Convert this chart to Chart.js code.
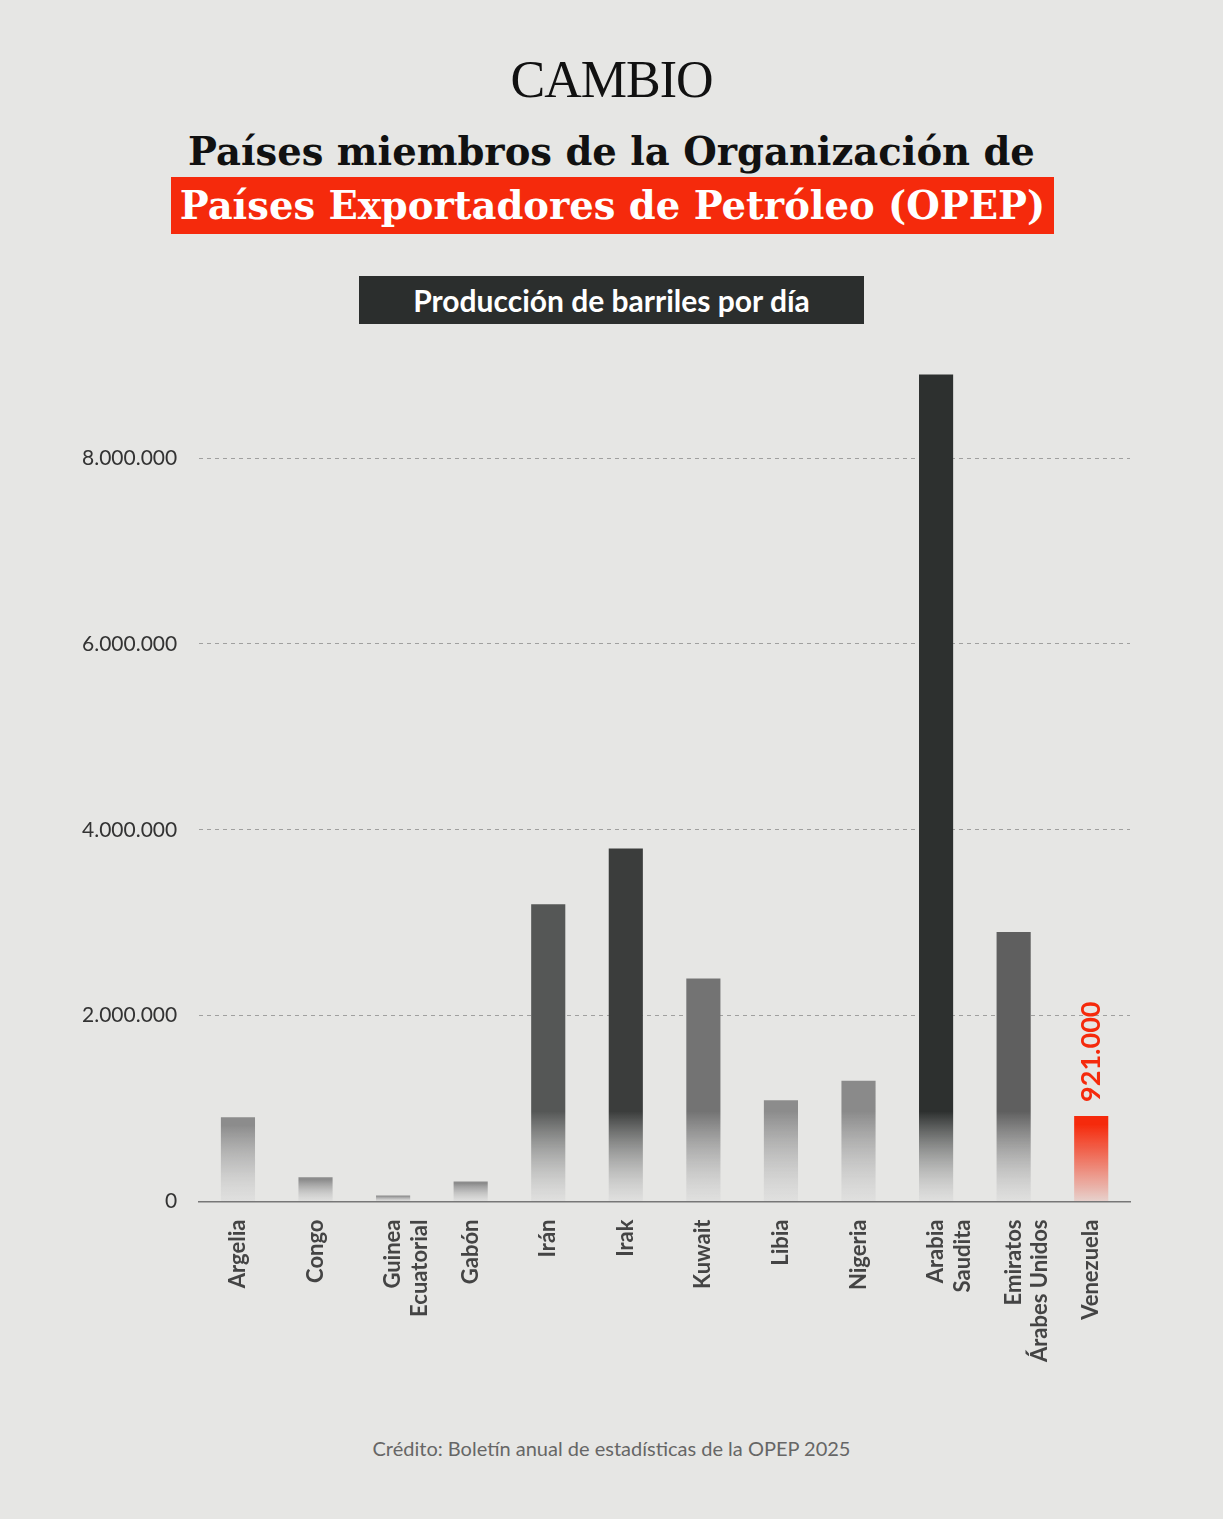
<!DOCTYPE html>
<html>
<head>
<meta charset="utf-8">
<script src="https://cdn.jsdelivr.net/npm/chart.js@4"></script>
<style>
  body { margin: 0; background: #e6e6e4; width: 1223px; height: 1519px; overflow: hidden; font-family: 'Lato', 'Noto Sans', sans-serif; }
  .wrap { position: relative; width: 1223px; height: 1519px; }
  .brand { position: absolute; top: 50px; width: 100%; text-align: center; font-family: 'Liberation Serif', serif; font-size: 52px; color: #111; letter-spacing: -1px; }
  .t1 { position: absolute; top: 129px; width: 100%; text-align: center; font-family: 'DejaVu Serif', serif; font-weight: bold; font-size: 38.5px; color: #111; white-space: nowrap; }
  .t2 { position: absolute; top: 177px; left: 171px; width: 883px; height: 57px; background: #f52a0c; color: #fff; text-align: center; font-family: 'DejaVu Serif', serif; font-weight: bold; font-size: 38.5px; line-height: 57px; white-space: nowrap; }
  .sub { position: absolute; top: 276px; left: 359px; width: 505px; height: 48px; background: #2b2e2d; color: #fff; text-align: center; font-weight: bold; font-size: 30px; line-height: 48px; }
  .credit { position: absolute; top: 1436px; width: 100%; text-align: center; font-size: 20px; color: #666; }
  #c { position: absolute; left: 60px; top: 312px; }
</style>
</head>
<body>
<div class="wrap">
  <div class="brand">CAMBIO</div>
  <div class="t1">Países miembros de la Organización de</div>
  <div class="t2">Países Exportadores de Petróleo (OPEP)</div>
  <div class="sub">Producción de barriles por día</div>
  <canvas id="c" width="1080" height="1060" style="width:1080px;height:1060px"></canvas>
  <div class="credit">Crédito: Boletín anual de estadísticas de la OPEP 2025</div>
</div>
<script>
const countries = [['Argelia'], ['Congo'], ['Guinea', 'Ecuatorial'], ['Gabón'], ['Irán'], ['Irak'], ['Kuwait'], ['Libia'], ['Nigeria'], ['Arabia', 'Saudita'], ['Emiratos', 'Árabes Unidos'], ['Venezuela']];
const production = [907000, 260000, 65000, 216000, 3200000, 3800000, 2400000, 1090000, 1300000, 8900000, 2900000, 921000];
const yTicks = [0, 2000000, 4000000, 6000000, 8000000];
const topColors = ['#8c8c8c', '#8c8c8c', '#8c8c8c', '#8c8c8c', '#555756', '#3b3d3c', '#737373', '#8c8c8c', '#8a8a8a', '#2d302f', '#5f5f5f', '#f52a0c'];
const highlightIndex = 11;

function barFill(context) {
  const chart = context.chart;
  const y = chart.scales.y;
  if (!y || !chart.chartArea) return topColors[context.dataIndex];
  const i = context.dataIndex;
  const top = y.getPixelForValue(production[i]);
  const bottom = y.getPixelForValue(0);
  const g = chart.ctx.createLinearGradient(0, bottom, 0, top);
  const c = topColors[i];
  const fade = i === highlightIndex ? 'rgba(245,42,12,0.1)' : 'rgba(215,215,215,0.4)';
  g.addColorStop(0, fade);
  const stop = Math.min(0.9, 90 / Math.max(1, bottom - top));
  g.addColorStop(stop, c);
  g.addColorStop(1, c);
  return g;
}

const valueLabel = {
  id: 'valueLabel',
  afterDatasetsDraw(chart) {
    const bar = chart.getDatasetMeta(0).data[highlightIndex];
    const ctx = chart.ctx;
    ctx.save();
    ctx.translate(bar.x, bar.y - 14);
    ctx.rotate(-Math.PI / 2);
    ctx.fillStyle = '#f52a0c';
    ctx.font = 'bold 27px Lato, sans-serif';
    ctx.textAlign = 'left';
    ctx.textBaseline = 'middle';
    ctx.fillText(production[highlightIndex].toLocaleString('de-DE'), 0, 0);
    ctx.restore();
  }
};

new Chart(document.getElementById('c'), {
  type: 'bar',
  data: {
    labels: countries,
    datasets: [{ data: production, backgroundColor: barFill, barPercentage: 0.44, categoryPercentage: 1 }]
  },
  options: {
    responsive: false,
    animation: false,
    layout: { padding: { top: 8, right: 10 } },
    plugins: { legend: { display: false }, tooltip: { enabled: false } },
    scales: {
      y: {
        min: 0, max: 9200000,
        afterBuildTicks: s => { s.ticks = yTicks.map(v => ({ value: v })); },
        ticks: { color: '#333', font: { size: 21, family: 'Lato' }, padding: 22,
          callback: v => v.toLocaleString('de-DE') },
        grid: { color: 'rgba(0,0,0,0.3)', tickLength: 0, drawTicks: false },
        border: { display: false, dash: [4, 4] }
      },
      x: {
        ticks: { color: '#444', font: { size: 22, weight: 'bold', family: 'Lato' }, minRotation: 90, maxRotation: 90, padding: 10, autoSkip: false },
        grid: { display: false },
        border: { color: '#777', width: 1.5 }
      }
    }
  },
  plugins: [valueLabel]
});
</script>
</body>
</html>
